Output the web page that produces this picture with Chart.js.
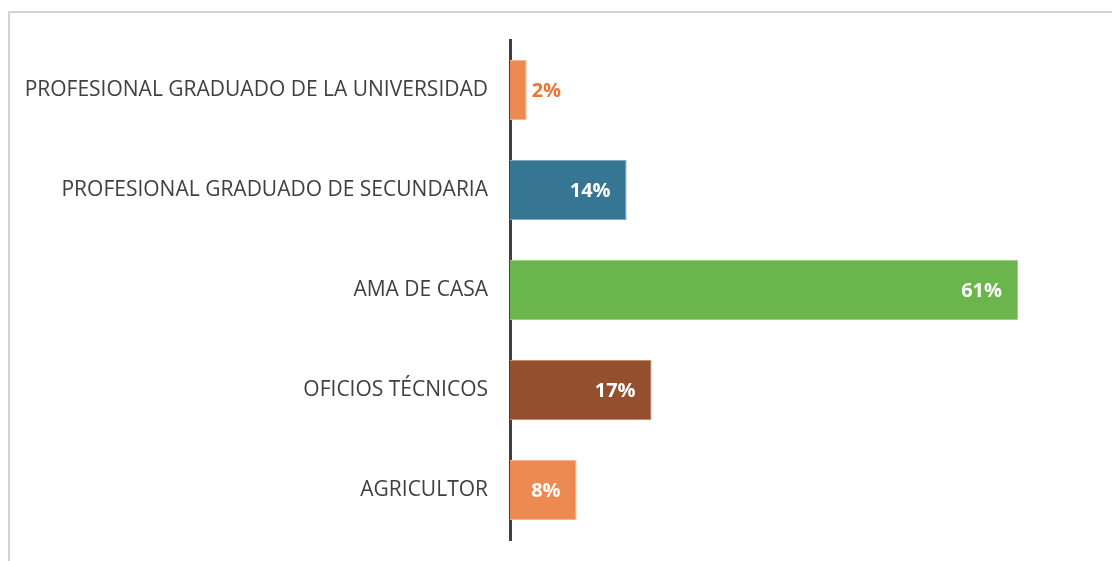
<!DOCTYPE html>
<html>
<head>
<meta charset="utf-8">
<script src="https://cdn.jsdelivr.net/npm/chart.js@4.4.1/dist/chart.umd.min.js"></script>
<style>
  body { margin: 0; background: #fff; overflow: hidden; }
  #frame { position: absolute; left: 8px; top: 11px; width: 1120px; height: 570px; border: 2px solid #d4d4d4; }
  #myChart { position: absolute; left: 0; top: 0; }
</style>
</head>
<body>
<div id="frame"></div>
<canvas id="myChart" width="1112" height="561"></canvas>
<script>
const categories = [
    "PROFESIONAL GRADUADO DE LA UNIVERSIDAD",
    "PROFESIONAL GRADUADO DE SECUNDARIA",
    "AMA DE CASA",
    "OFICIOS TÉCNICOS",
    "AGRICULTOR"
];
const values = [2, 14, 61, 17, 8];
const barColors = ["#ED8A52", "#377693", "#6AB54C", "#944F2F", "#ED8A52"];
const barEdges = ["#F4B58F", "#7FA8BC", "#9CD086", "#C59079", "#F4B58F"];

// draws the % labels at the end of each bar
const valueLabels = {
    id: "valueLabels",
    afterDatasetsDraw(chart) {
        const ctx = chart.ctx;
        const meta = chart.getDatasetMeta(0);
        ctx.save();
        ctx.font = "bold 20px 'Open Sans'";
        ctx.textBaseline = "middle";
        meta.data.forEach(function (bar, i) {
            const txt = values[i] + "%";
            const w = ctx.measureText(txt).width;
            const barLen = bar.x - bar.base;
            if (barLen > w + 20) {
                ctx.fillStyle = "#ffffff";
                ctx.textAlign = "right";
                ctx.fillText(txt, bar.x - 16, bar.y + 1);
            } else {
                ctx.fillStyle = "#E97732";
                ctx.textAlign = "left";
                ctx.fillText(txt, bar.x + 5, bar.y + 1);
            }
        });
        ctx.restore();
    }
};

let ctx = document.getElementById("myChart");
new Chart(ctx, {
    type: "bar",
    data: {
        labels: categories,
        datasets: [
            {
                data: values,
                backgroundColor: barColors,
                borderColor: barEdges,
                borderWidth: 1,
                barPercentage: 0.6,
                categoryPercentage: 1.0,
            },
        ],
    },
    plugins: [valueLabels],
    options: {
        indexAxis: "y",
        responsive: false,
        animation: false,
        layout: { padding: { top: 40, bottom: 21, left: 0, right: 19 } },
        plugins: {
            legend: { display: false },
            tooltip: { enabled: false },
        },
        scales: {
            x: {
                display: false,
                min: 0,
                max: 70,
            },
            y: {
                grid: { display: false },
                border: { display: true, color: "#404040", width: 3 },
                ticks: {
                    color: "#404040",
                    font: { family: "'Open Sans'", size: 21 },
                    padding: 14,
                },
                afterFit(scale) {
                    scale.width = 510;
                    scale.paddingTop = 0;
                    scale.paddingBottom = 0;
                },
            },
        },
    },
});
</script>
</body>
</html>
